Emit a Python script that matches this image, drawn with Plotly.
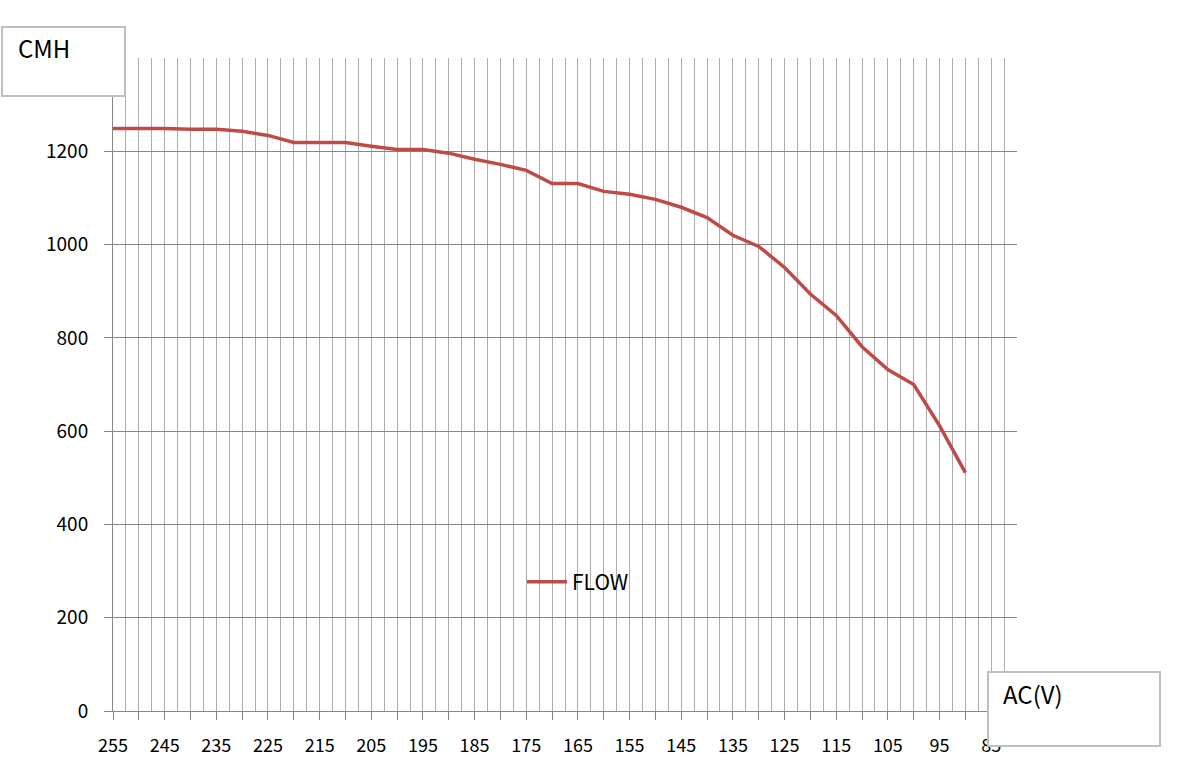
import plotly.graph_objects as go

# Data
voltage = [255, 250, 245, 240, 235, 230, 225, 220, 215, 210, 205, 200, 195, 190, 185, 180, 175,
           170, 165, 160, 155, 150, 145, 140, 135, 130, 125, 120, 115, 110, 105, 100, 95, 90]
flow = [1249, 1249, 1249, 1247, 1247, 1243, 1234, 1219, 1219, 1219, 1211, 1204, 1204, 1196, 1183, 1172, 1159,
        1131, 1131, 1114, 1108, 1097, 1080, 1058, 1020, 996, 951, 894, 848, 781, 732, 700, 612, 511]
x_tick_vals = list(range(255, 80, -5))
x_tick_text = [str(v) if (255 - v) % 10 == 0 else "" for v in x_tick_vals]
y_tick_vals = [0, 200, 400, 600, 800, 1000, 1200, 1400]
y_tick_text = ["0", "200", "400", "600", "800", "1000", "1200", ""]

FONT = "Noto Sans CJK KR"
W, H = 1179, 777
L, R, T, B = 113, 162, 58, 66
PW, PH = W - L - R, H - T - B

def px_x(px):
    return (px - L) / PW

def px_y(py):
    return (H - B - py) / PH

fig = go.Figure()
fig.add_trace(go.Scatter(
    x=voltage, y=flow, mode="lines", name="FLOW",
    line=dict(color="#be4b48", width=3.5),
))

fig.update_layout(
    width=W, height=H,
    margin=dict(l=L, r=R, t=T, b=B, pad=0),
    paper_bgcolor="white", plot_bgcolor="white",
    font=dict(family=FONT, size=18, color="#000000"),
    showlegend=True,
    legend=dict(
        x=px_x(522), y=px_y(582), xanchor="left", yanchor="middle",
        bgcolor="rgba(0,0,0,0)", font=dict(family=FONT, size=21),
        itemwidth=40,
    ),
    xaxis=dict(
        range=[255, 80], autorange=False,
        tickmode="array", tickvals=x_tick_vals, ticktext=x_tick_text,
        ticks="outside", ticklen=8, tickcolor="#868686", tickwidth=1,
        showgrid=True, gridcolor="#adadad", gridwidth=1,
        minor=dict(tick0=80, dtick=2.5, showgrid=True, gridcolor="#adadad", gridwidth=1, ticks=""),
        showline=True, linecolor="#868686", linewidth=1,
        zeroline=False,
        tickfont=dict(family=FONT, size=18),
        ticklabelstandoff=10,
    ),
    yaxis=dict(
        range=[0, 1400], autorange=False,
        tickmode="array", tickvals=y_tick_vals, ticktext=y_tick_text,
        ticks="outside", ticklen=8, tickcolor="#868686", tickwidth=1,
        showgrid=True, gridcolor="#868686", gridwidth=1,
        showline=True, linecolor="#868686", linewidth=1,
        zeroline=False,
        tickfont=dict(family=FONT, size=19),
        ticklabelstandoff=12,
    ),
    shapes=[
        dict(type="rect", xref="paper", yref="paper",
             x0=px_x(2), x1=px_x(125), y0=px_y(96), y1=px_y(27),
             line=dict(color="#bfbfbf", width=2), fillcolor="white", layer="above"),
        dict(type="rect", xref="paper", yref="paper",
             x0=px_x(988), x1=px_x(1160), y0=px_y(746), y1=px_y(672),
             line=dict(color="#bfbfbf", width=2), fillcolor="white", layer="above"),
    ],
    annotations=[
        dict(text="CMH", xref="paper", yref="paper", x=px_x(16), y=px_y(48),
             xanchor="left", yanchor="middle", showarrow=False,
             font=dict(family=FONT, size=24, color="#000000")),
        dict(text="AC(V)", xref="paper", yref="paper", x=px_x(1001), y=px_y(693),
             xanchor="left", yanchor="middle", showarrow=False,
             font=dict(family=FONT, size=24, color="#000000")),
    ],
)

fig.write_html("out.html")
